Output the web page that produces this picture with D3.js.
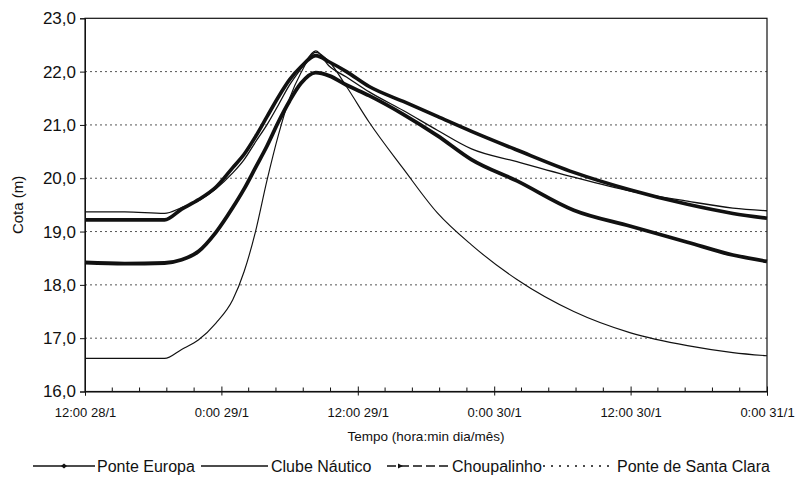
<!DOCTYPE html>
<html><head><meta charset="utf-8">
<script src="https://cdn.jsdelivr.net/npm/d3@7"></script>
<style>
body{margin:0;background:#fff;}
text{font-family:"Liberation Sans",Arial,sans-serif;fill:#111;}
</style></head>
<body>
<svg id="chart" width="801" height="479"></svg>
<script>
// hours since 12:00 28/1
const hours = [0, 3.5, 7, 8.5, 10, 11.5, 13, 14, 15, 16, 17, 18, 19, 20.3, 21.5, 23, 25, 28, 31, 34, 38, 43, 48, 53, 57, 60];
const ponteEuropa = [19.22, 19.22, 19.22, 19.42, 19.60, 19.83, 20.20, 20.45, 20.78, 21.15, 21.52, 21.85, 22.09, 22.30, 22.18, 22.00, 21.72, 21.44, 21.16, 20.88, 20.53, 20.11, 19.78, 19.51, 19.34, 19.25];
const clubeNautico = [19.37, 19.37, 19.34, 19.45, 19.58, 19.80, 20.10, 20.35, 20.68, 21.00, 21.37, 21.75, 22.05, 22.39, 22.10, 21.90, 21.62, 21.27, 20.90, 20.55, 20.31, 20.02, 19.76, 19.57, 19.44, 19.39];
const choupalinho = [18.42, 18.40, 18.41, 18.47, 18.63, 18.98, 19.45, 19.80, 20.20, 20.60, 21.05, 21.45, 21.78, 21.98, 21.92, 21.75, 21.55, 21.20, 20.80, 20.35, 19.95, 19.40, 19.10, 18.80, 18.56, 18.44];
const santaClara = [16.62, 16.62, 16.62, 16.79, 16.97, 17.28, 17.72, 18.25, 19.00, 19.95, 20.80, 21.50, 21.98, 22.36, 22.18, 21.72, 21.05, 20.18, 19.35, 18.75, 18.10, 17.50, 17.10, 16.86, 16.73, 16.67];
const seriesNames = ["Ponte Europa", "Clube Náutico", "Choupalinho", "Ponte de Santa Clara"];
const xTickHours = [0, 12, 24, 36, 48, 60];
const xTickLabels = ["12:00 28/1", "0:00 29/1", "12:00 29/1", "0:00 30/1", "12:00 30/1", "0:00 31/1"];
const yTicks = [16, 17, 18, 19, 20, 21, 22, 23];
const yTitle = "Cota (m)";
const xTitle = "Tempo (hora:min dia/mês)";

const svg = d3.select("#chart");
const L = 85, R = 767, T = 18.3, B = 391.5;
const x = d3.scaleLinear().domain([0, 60]).range([L, R]);
const y = d3.scaleLinear().domain([16, 23]).range([B, T]);

// gridlines
svg.append("g").selectAll("line").data(yTicks.filter(v => v > 16 && v < 23)).join("line")
  .attr("x1", L).attr("x2", R).attr("y1", d => y(d)).attr("y2", d => y(d))
  .attr("stroke", "#555").attr("stroke-width", 1).attr("stroke-dasharray", "2,3");

// frame
svg.append("rect").attr("x", L).attr("y", T).attr("width", R - L).attr("height", B - T)
  .attr("fill", "none").attr("stroke", "#111").attr("stroke-width", 1.2);

// y axis
const yAxis = d3.axisLeft(y).tickValues(yTicks).tickSize(5).tickPadding(4)
  .tickFormat(d => d3.format(".1f")(d).replace(".", ","));
const gy = svg.append("g").attr("transform", `translate(${L},0)`).call(yAxis);
gy.select(".domain").attr("stroke", "#111");
gy.selectAll("line").attr("stroke", "#111");
gy.selectAll("text").attr("font-size", 17).attr("font-family", "Liberation Sans, Arial, sans-serif").attr("fill", "#111");

// x axis: minor ticks
const minor = d3.range(0, 60.001, 2.4).filter(h => xTickHours.indexOf(h) < 0);
svg.append("g").selectAll("line").data(minor).join("line")
  .attr("x1", d => x(d)).attr("x2", d => x(d)).attr("y1", B - 4).attr("y2", B)
  .attr("stroke", "#111");
const xAxis = d3.axisBottom(x).tickValues(xTickHours).tickSize(4).tickPadding(12)
  .tickFormat((d, i) => xTickLabels[i]);
const gx = svg.append("g").attr("transform", `translate(0,${B})`).call(xAxis);
gx.select(".domain").attr("stroke", "#111");
gx.selectAll(".tick line").attr("stroke", "#111").attr("y1", -5);
gx.selectAll("text").attr("font-size", 13).attr("font-family", "Liberation Sans, Arial, sans-serif").attr("fill", "#111");

// titles
svg.append("text").attr("transform", `translate(23,${(T + B) / 2}) rotate(-90)`)
  .attr("text-anchor", "middle").attr("font-size", 15).text(yTitle);
svg.append("text").attr("x", (L + R) / 2).attr("y", 441).attr("text-anchor", "middle")
  .attr("font-size", 13.5).text(xTitle);

// lines
const line = d3.line().x((d, i) => x(hours[i])).y(d => y(d)).curve(d3.curveMonotoneX);
const styles = [
  {data: ponteEuropa, w: 3.6, dash: null},
  {data: clubeNautico, w: 1.3, dash: null},
  {data: choupalinho, w: 3.8, dash: null},
  {data: santaClara, w: 1.15, dash: null}
];
const plot = svg.append("g");
styles.forEach(s => {
  plot.append("path").attr("d", line(s.data)).attr("fill", "none")
    .attr("stroke", "#111").attr("stroke-width", s.w)
    .attr("stroke-linejoin", "round")
    .attr("stroke-dasharray", s.dash);
});

// legend
const ly = 466;
const leg = svg.append("g");
const items = [
  {x1: 33, x2: 95, tx: 97, dash: null, marker: "diamond"},
  {x1: 201, x2: 268, tx: 271, dash: null, marker: null},
  {x1: 387, x2: 449, tx: 452, dash: "9,4", marker: "dash"},
  {x1: 543, x2: 613, tx: 617, dash: "2,6", marker: null}
];
items.forEach((it, i) => {
  leg.append("line").attr("x1", it.x1).attr("x2", it.x2).attr("y1", ly).attr("y2", ly)
    .attr("stroke", "#111").attr("stroke-width", 1.3).attr("stroke-dasharray", it.dash);
  if (it.marker === "diamond") {
    const cx = (it.x1 + it.x2) / 2;
    leg.append("path").attr("d", `M${cx - 3},${ly} L${cx},${ly - 2.5} L${cx + 3},${ly} L${cx},${ly + 2.5}Z`).attr("fill", "#111");
  } else if (it.marker === "dash") {
    const cx = it.x1 + 14;
    leg.append("path").attr("d", `M${cx - 3},${ly - 2.5} L${cx + 2},${ly} L${cx - 3},${ly + 2.5}Z`).attr("fill", "#111");
  }
  leg.append("text").attr("x", it.tx).attr("y", ly + 6).attr("font-size", 16).text(seriesNames[i]);
});
</script>
</body></html>
